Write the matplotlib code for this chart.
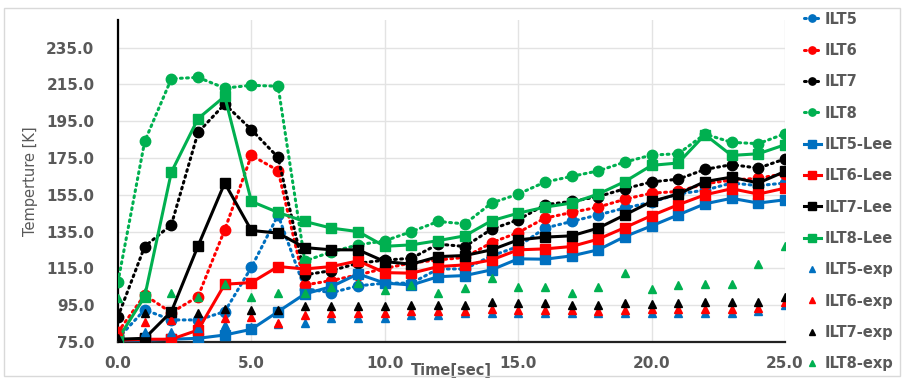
import numpy as np
import matplotlib
matplotlib.use("Agg")
import matplotlib.pyplot as plt
from matplotlib.patches import Rectangle

# time [sec]
t = np.arange(0, 26)

# simulation (dotted, circles)
ilt5 = [77, 92.5, 87, 87, 91.5, 115.6, 144, 104, 101.8, 105.5, 107, 107, 114.7, 114.7, 121.8, 126.9,
        136.9, 140.5, 144.1, 147.8, 151, 155.5, 157.5, 161.4, 160, 161.4]
ilt6 = [80.5, 100.5, 91, 99.7, 136, 176.4, 168.2, 106, 108.4, 111.5, 115, 118, 119.6, 121, 129, 134.5,
        142.3, 145.4, 148.3, 152.6, 155.9, 156.8, 161, 163, 164, 166.5]
ilt7 = [88.8, 126.9, 138.7, 188.9, 204.3, 190.4, 175.3, 111.5, 113.8, 117.8, 119.5, 120.5, 128.2, 126.9,
        136.3, 141.4, 149.6, 151.4, 154, 158.3, 162, 163.5, 168.8, 171.4, 169.5, 174.5]
ilt8 = [107.8, 184, 218.1, 218.8, 213, 214.5, 214, 119, 124, 127.8, 130, 135, 140.5, 139.2, 150.5,
        155.4, 161.9, 165, 168, 172.8, 176.6, 177.3, 188, 183.5, 182.8, 188.2]

# Lee model (solid, squares)
lee5 = [76, 76, 76.5, 77, 78.8, 81.9, 91.5, 101.1, 105.1, 112, 107, 106, 110.5, 111.1, 114.2, 120.2,
        120, 121.8, 125.1, 132.3, 138.1, 144.1, 150.1, 153.1, 150.5, 152.3]
lee6 = [76, 76.5, 76.5, 81.5, 106.4, 107.3, 116, 114.7, 116, 119.1, 112.7, 112.4, 116, 116.9, 119.6,
        125.1, 125.6, 126.9, 130.9, 137.2, 143.7, 149.6, 155, 158.3, 155.4, 158.6]
lee7 = [76.5, 77, 91.5, 127.2, 161.4, 135.6, 134.2, 126.3, 125.1, 125.1, 118.7, 117.3, 121.4, 122,
        125.1, 130.5, 132, 132.7, 136.9, 144.1, 151.4, 155.4, 162.2, 164.6, 161.4, 167.7]
lee8 = [76.6, 99.7, 167.3, 196.4, 208.5, 151.4, 145.4, 140.5, 136.9, 135, 127, 127.8, 130.1, 132.7,
        140.9, 145, 148.3, 150.5, 155.4, 162.2, 171, 172.3, 187.7, 176.4, 177.3, 182.2]

# experiment (triangles)
exp5 = [77, 80.5, 80.5, 82.8, 84.3, 83, 85, 85.4, 88.2, 88, 88, 89.7, 89.7, 90.5, 91, 91, 91, 91,
        90.5, 91, 91, 91, 91, 91, 92, 95]
exp6 = [81, 86, 87, 86, 87.9, 88.8, 85.4, 89.7, 90.6, 90.6, 91, 91.8, 91.8, 92, 93.2, 92.5, 92.5,
        92.5, 92, 92.5, 92.8, 92.8, 92.8, 92.8, 93.5, 97]
exp7 = [77, 90.6, 91.5, 90.6, 92.8, 92.4, 92.4, 94.6, 94.6, 94.4, 94.6, 95.1, 95, 95, 96.6, 96, 96,
        95, 95, 96, 95.7, 96, 96.5, 96.5, 96.5, 99.7]
exp8 = [98.8, 102.4, 101.8, 99.7, 106.4, 99.7, 101.8, 101.8, 105.1, 107, 103.3, 106, 101.5, 104.2,
        110, 105, 105.1, 101.5, 105.1, 112.4, 103.7, 106, 106.6, 106.6, 117.4, 127.2]

names = ["ILT5", "ILT6", "ILT7", "ILT8"]
colors = ["#0070C0", "#FF0000", "#000000", "#00B050"]
yticks = [75, 95, 115, 135, 155, 175, 195, 215, 235]
xticks = [0, 5, 10, 15, 20, 25]

txt = "#595959"
fs = 10.5
fig = plt.figure(figsize=(9.04, 3.78), dpi=100)
fig.patches.append(Rectangle((0.004, 0.004), 0.992, 0.974, transform=fig.transFigure,
                             fill=False, edgecolor="#d9d9d9", lw=1))
ax = fig.add_axes([118/904, 1-342/378, 667/904, 322/378])

handles = []
for y, c, n in zip([ilt5, ilt6, ilt7, ilt8], colors, names):
    h, = ax.plot(t, y, color=c, ls=(0, (0.6, 1.4)), lw=2.2, dash_capstyle="round",
                 marker="o", ms=7.5, label=n, zorder=3)
    handles.append(h)
for y, c, n in zip([lee5, lee6, lee7, lee8], colors, names):
    h, = ax.plot(t, y, color=c, ls="-", lw=2.2, marker="s", ms=7.5, label=n + "-Lee", zorder=4)
    handles.append(h)
for y, c, n in zip([exp5, exp6, exp7, exp8], colors, names):
    h, = ax.plot(t, y, color=c, ls="none", marker="^", ms=6, label=n + "-exp", zorder=5)
    handles.append(h)

ax.set_xlim(0, 25)
ax.set_ylim(75, 250)
ax.set_xticks(xticks)
ax.set_yticks(yticks)
ax.set_xticklabels([f"{v:.1f}" for v in xticks], fontweight="bold", color=txt, fontsize=11)
ax.set_yticklabels([f"{v:.1f}" for v in yticks], fontweight="bold", color=txt, fontsize=11)
ax.tick_params(axis="y", length=0, pad=17)
ax.tick_params(axis="x", length=0, pad=10)
ax.grid(True, color="#e3e3e3", lw=1)
ax.set_axisbelow(True)
for s in ["top", "right"]:
    ax.spines[s].set_visible(False)
ax.spines["left"].set_linewidth(1.6)
ax.spines["bottom"].set_linewidth(1.6)
ax.spines["bottom"].set_color("#222222")

ax.set_ylabel("Temperture [K]", color=txt, fontsize=fs, labelpad=6)
ax.text(12.5, -0.065, "Time[sec]", transform=ax.get_xaxis_transform(), ha="center", va="top",
        fontweight="bold", color=txt, fontsize=fs)

leg = fig.legend(handles=handles, loc="upper left", bbox_to_anchor=(0.883, 0.985), frameon=False,
                 handlelength=1.15, handletextpad=0.25, labelspacing=1.12, markerscale=0.7,
                 borderaxespad=0, prop={"weight": "bold", "size": fs})
for tx in leg.get_texts():
    tx.set_color(txt)

fig.savefig("out.png", dpi=100)
